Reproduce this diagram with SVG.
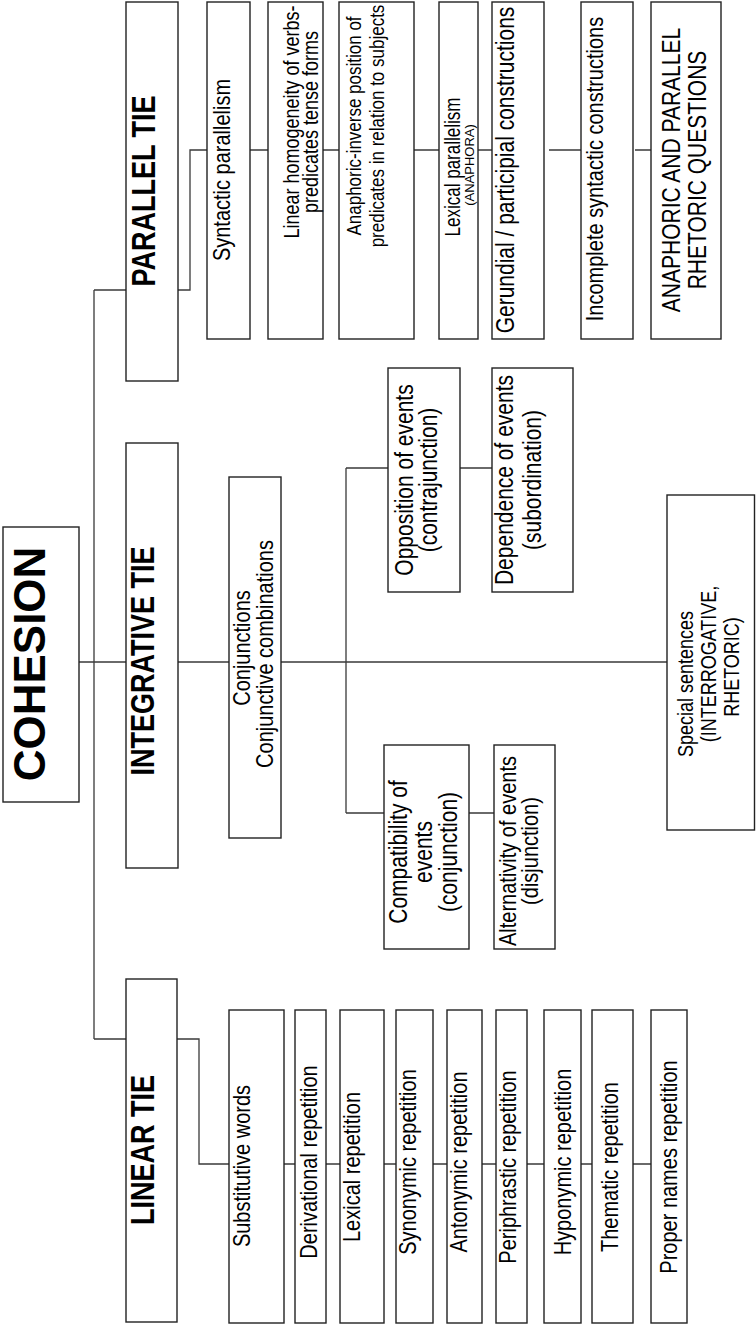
<svg xmlns="http://www.w3.org/2000/svg" width="756" height="1327" viewBox="0 0 756 1327">
<style>
.box{fill:#fff;stroke:#222;stroke-width:1.4}
.t{font-family:"Liberation Sans",Arial,sans-serif;font-size:20px;text-anchor:middle;fill:#000}
.b{font-weight:bold;font-size:27px}
.con{fill:none;stroke:#3a3a3a;stroke-width:1.3}
</style>
<rect width="756" height="1327" fill="#fff"/>
<g id="connectors" class="con">
<path d="M94,290V1039M94,290H126M79,662H126M94,1039H126"/>
<path d="M178,290H190V150H207M250,150H268M323,150H339M414,150H439M478,150H492M549,150H581M635,150H651"/>
<path d="M178,662H229M281,662H667M346,468V813M346,468H388M460,468H492M346,813H384M469,813H494"/>
<path d="M177,1039H199V1164H229M284,1164H295M326,1164H340M384,1164H396M433,1164H447M482,1164H496M527,1164H544M581,1164H592M633,1164H651"/>
</g>
<g id="cohesion"><rect class="box" x="3" y="527" width="76" height="275"/><text class="t b" style="font-size:44px" transform="translate(45,664) rotate(-90)">COHESION</text></g>
<g id="parallel-tie"><rect class="box" x="126" y="2" width="52" height="379"/><text class="t b" transform="translate(155,191) scale(1.2,1) rotate(-90)">PARALLEL TIE</text></g>
<g id="integrative-tie"><rect class="box" x="126" y="443" width="52" height="425"/><text class="t b" transform="translate(154,661) scale(1.2,1) rotate(-90)">INTEGRATIVE TIE</text></g>
<g id="linear-tie"><rect class="box" x="126" y="979" width="51" height="343"/><text class="t b" transform="translate(154,1150) scale(1.2,1) rotate(-90)">LINEAR TIE</text></g>
<g id="syntactic"><rect class="box" x="207" y="2" width="43" height="337"/><text class="t" transform="translate(230,170) scale(1.2,1) rotate(-90)">Syntactic parallelism</text></g>
<g id="linear-homogeneity"><rect class="box" x="268" y="2" width="55" height="337"/><text class="t" style="font-size:18px" transform="translate(299,122) scale(1.2,1) rotate(-90)"><tspan x="0" y="0">Linear homogeneity of verbs-</tspan><tspan x="0" y="15.8">predicates tense forms</tspan></text></g>
<g id="anaphoric-inverse"><rect class="box" x="339" y="2" width="75" height="337"/><text class="t" style="font-size:17px" transform="translate(361,126) scale(1.2,1) rotate(-90)"><tspan x="0" y="0">Anaphoric-inverse position of</tspan><tspan x="0" y="19.2">predicates in relation to subjects</tspan></text></g>
<g id="lexical-parallelism"><rect class="box" x="439" y="2" width="39" height="337"/><text class="t" style="font-size:17px" transform="translate(460,167) scale(1.35,1) rotate(-90)">Lexical parallelism</text><text class="t" style="font-size:13px" transform="translate(474,165) scale(1.05,1) rotate(-90)">(ANAPHORA)</text></g>
<g id="gerundial"><rect class="box" x="492" y="2" width="52" height="337"/><text class="t" style="font-size:21px" transform="translate(514,170) scale(1.2,1) rotate(-90)">Gerundial / participial constructions</text></g>
<g id="incomplete"><rect class="box" x="581" y="2" width="52" height="337"/><text class="t" transform="translate(603,169) scale(1.2,1) rotate(-90)">Incomplete syntactic constructions</text></g>
<g id="rhetoric-questions"><rect class="box" x="651" y="2" width="70" height="337"/><text class="t" style="font-size:21px" transform="translate(680,170) scale(1.2,1) rotate(-90)"><tspan x="0" y="0">ANAPHORIC AND PARALLEL</tspan><tspan x="0" y="21.7">RHETORIC QUESTIONS</tspan></text></g>
<g id="conjunctions"><rect class="box" x="229" y="477" width="52" height="361"/><text class="t" transform="translate(250,648) scale(1.2,1) rotate(-90)">Conjunctions</text><text class="t" transform="translate(273,654) scale(1.2,1) rotate(-90)">Conjunctive combinations</text></g>
<g id="opposition"><rect class="box" x="388" y="368" width="72" height="224"/><text class="t" style="font-size:21px" transform="translate(413,480) scale(1.2,1) rotate(-90)"><tspan x="0" y="0">Opposition of events</tspan><tspan x="0" y="20">(contrajunction)</tspan></text></g>
<g id="dependence"><rect class="box" x="492" y="368" width="81" height="224"/><text class="t" style="font-size:21px" transform="translate(513,480) scale(1.2,1) rotate(-90)"><tspan x="0" y="0">Dependence of events</tspan><tspan x="0" y="23.3">(subordination)</tspan></text></g>
<g id="compatibility"><rect class="box" x="384" y="745" width="85" height="204"/><text class="t" style="font-size:21px" transform="translate(407,852) scale(1.2,1) rotate(-90)"><tspan x="0" y="0">Compatibility of</tspan><tspan x="0" y="20.8">events</tspan><tspan x="0" y="41.7">(conjunction)</tspan></text></g>
<g id="alternativity"><rect class="box" x="494" y="745" width="61" height="204"/><text class="t" transform="translate(516,851) scale(1.2,1) rotate(-90)"><tspan x="0" y="0">Alternativity of events</tspan><tspan x="0" y="18.3">(disjunction)</tspan></text></g>
<g id="special-sentences"><rect class="box" x="667" y="495" width="87.5" height="335"/><text class="t" style="font-size:18px" transform="translate(693,0) scale(1.2,1) rotate(-90)"><tspan x="-684" y="0">Special sentences</tspan><tspan x="-664" y="19.2">(INTERROGATIVE,</tspan><tspan x="-667" y="38.3">RHETORIC)</tspan></text></g>
<g id="substitutive"><rect class="box" x="229" y="1010" width="55" height="313"/><text class="t" transform="translate(250,1166) scale(1.2,1) rotate(-90)">Substitutive words</text></g>
<g id="derivational"><rect class="box" x="295" y="1010" width="31" height="313"/><text class="t" transform="translate(317,1162) scale(1.2,1) rotate(-90)">Derivational repetition</text></g>
<g id="lexical-repetition"><rect class="box" x="340" y="1010" width="44" height="313"/><text class="t" transform="translate(360,1167) scale(1.2,1) rotate(-90)">Lexical repetition</text></g>
<g id="synonymic"><rect class="box" x="396" y="1010" width="37" height="313"/><text class="t" transform="translate(416,1162) scale(1.2,1) rotate(-90)">Synonymic repetition</text></g>
<g id="antonymic"><rect class="box" x="447" y="1010" width="35" height="313"/><text class="t" transform="translate(467,1162) scale(1.2,1) rotate(-90)">Antonymic repetition</text></g>
<g id="periphrastic"><rect class="box" x="496" y="1010" width="31" height="313"/><text class="t" transform="translate(516,1167) scale(1.2,1) rotate(-90)">Periphrastic repetition</text></g>
<g id="hyponymic"><rect class="box" x="544" y="1010" width="37" height="313"/><text class="t" transform="translate(571,1162) scale(1.2,1) rotate(-90)">Hyponymic repetition</text></g>
<g id="thematic"><rect class="box" x="592" y="1010" width="41" height="313"/><text class="t" transform="translate(618,1167) scale(1.2,1) rotate(-90)">Thematic repetition</text></g>
<g id="proper-names"><rect class="box" x="651" y="1010" width="36" height="313"/><text class="t" transform="translate(677,1167) scale(1.2,1) rotate(-90)">Proper names repetition</text></g>
</svg>
